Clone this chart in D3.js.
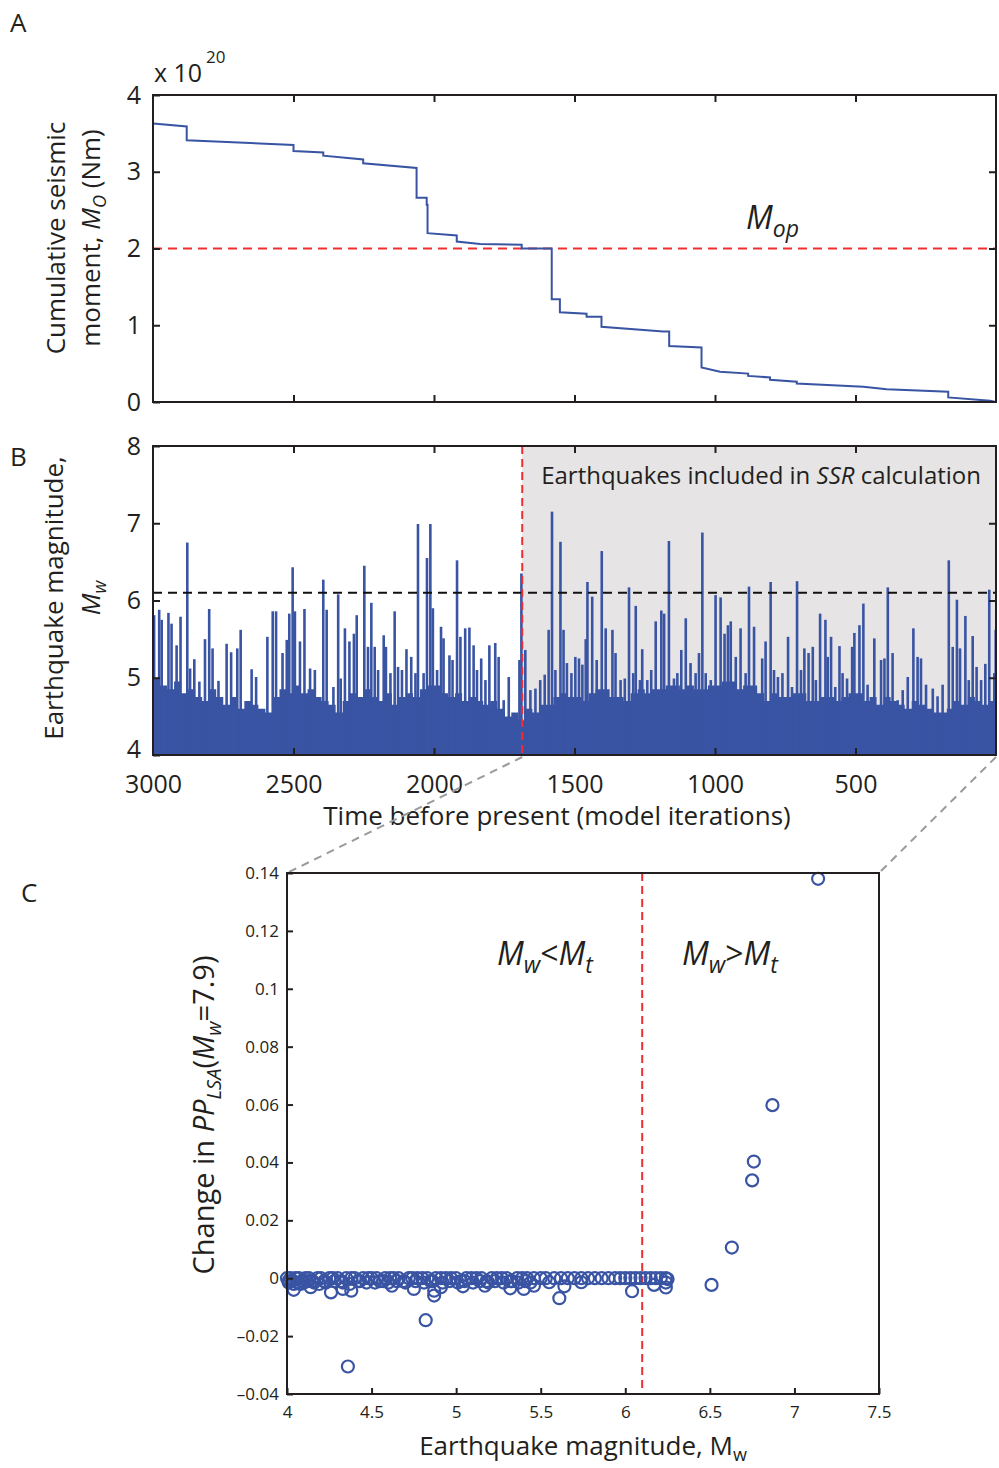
<!DOCTYPE html>
<html><head><meta charset="utf-8">
<script src="https://cdn.jsdelivr.net/npm/d3@7"></script>
<style>
body{margin:0;background:#fff}
svg{display:block}
text{font-family:"Open Sans",sans-serif;fill:#231f20}
</style>
</head><body>
<svg id="c" width="999" height="1468"></svg>
<script>
// ---------- DATA ----------
// Panel A: cumulative seismic moment (x10^20 Nm) vs time before present
const momentTime  = [3000,2880,2880,2500,2500,2394,2394,2252,2252,2062,2062,2026,2026,2023,2023,1919,1919,1836,1688,1688,1581,1581,1552,1552,1457,1457,1404,1404,1184,1163,1163,1048,1048,982,882,882,804,804,709,709,472,389,170,170,21,0];
const momentValue = [3.63,3.59,3.41,3.35,3.27,3.25,3.21,3.16,3.11,3.05,2.66,2.66,2.57,2.57,2.20,2.17,2.09,2.06,2.05,2.00,2.00,1.34,1.34,1.17,1.15,1.11,1.11,0.98,0.92,0.92,0.73,0.71,0.45,0.395,0.37,0.34,0.32,0.29,0.265,0.24,0.20,0.165,0.134,0.06,0.017,0.0];
const momentTicksY = [0,1,2,3,4];
const mopLevel = 2;

// Panel B: earthquake magnitudes (peaks) vs time
const eqTime = [2996,2978,2969,2945,2934,2916,2902,2888,2878,2868,2853,2835,2815,2800,2788,2767,2738,2722,2700,2688,2667,2649,2633,2619,2593,2574,2562,2539,2524,2515,2503,2495,2477,2461,2441,2424,2394,2382,2370,2358,2341,2332,2317,2301,2285,2275,2248,
 2235,2223,2211,2199,2179,2171,2155,2140,2128,2114,2098,2081,2066,2057,2037,2025,2013,2004,1989,1975,1966,1945,1934,1918,1906,1889,1874,1859,1847,1832,1817,1803,1782,1770,1752,1734,1717,1696,1689,1675,1657,1639,1622,1606,1592,1580,1568,1550,1539,1527,1511,1497,
 1484,1472,1460,1454,1437,1421,1403,1389,1365,1354,1336,1321,1306,1291,1282,1267,1259,1241,1227,1211,1191,1181,1164,1146,1134,1120,1104,1087,1069,1057,1045,1033,1015,998,980,966,954,944,926,909,891,879,861,843,832,820,802,790,776,760,740,
 726,708,694,682,667,652,641,626,607,599,587,572,557,546,530,512,504,486,472,457,433,409,397,385,368,350,332,314,294,279,267,249,225,208,190,168,154,139,128,109,97,83,69,53,38,24,6,1];
const eqMag = [5.81,5.88,5.75,5.84,5.70,5.42,5.79,4.76,6.75,5.12,5.24,4.95,5.50,5.89,5.38,4.96,5.44,5.33,5.38,5.62,4.69,5.11,5.01,4.47,5.53,5.86,5.86,5.32,5.49,5.83,6.43,5.86,5.47,5.89,5.12,5.10,6.27,5.88,4.54,4.88,6.08,4.99,5.64,5.47,5.57,5.81,6.45,
 5.40,5.97,5.40,5.10,5.55,5.40,5.06,5.86,5.14,5.10,5.37,5.27,5.06,6.99,5.06,6.55,6.99,5.90,5.10,5.66,5.51,5.29,5.23,6.52,5.53,5.64,5.65,5.42,5.10,5.25,4.97,5.42,5.45,5.27,4.71,5.01,4.54,5.23,6.35,5.36,4.84,4.86,4.97,5.04,5.62,7.15,5.10,6.76,5.62,5.19,5.06,5.27,
 5.25,5.17,5.50,6.24,6.05,5.23,6.64,5.64,5.62,5.32,4.97,4.99,6.17,5.06,5.93,4.97,5.37,4.97,5.10,5.73,5.87,5.83,6.77,4.99,5.06,5.36,5.77,5.19,5.06,5.32,6.88,5.06,4.97,6.07,6.04,5.57,5.68,5.73,5.27,5.64,5.06,6.18,5.66,4.63,5.25,5.47,6.24,5.10,5.01,5.06,5.53,
 4.88,6.25,5.10,5.38,5.32,5.40,4.97,5.83,5.75,5.27,5.53,4.88,5.41,5.06,4.99,5.40,5.58,5.68,5.96,4.91,5.51,5.23,5.25,6.17,5.32,4.71,4.84,5.01,5.64,5.27,5.25,4.91,4.86,4.76,4.91,6.52,5.40,6.01,5.38,5.80,4.97,5.54,5.14,4.97,5.18,6.14,5.06,5.62];
// dense background level of the magnitude series
const envTime = [3000,2975,2950,2925,2900,2875,2850,2825,2800,2775,2750,2725,2700,2675,2650,2625,2600,2575,2550,2525,2500,2475,2450,2425,2400,2375,2350,2325,2300,2275,2250,2225,2200,2175,2150,2125,2100,2075,2050,2025,2000,1975,1950,1925,1900,1875,1850,1825,1800,1775,1750,1725,1700,1675,1650,1625,1600,1575,1550,1525,1500,1475,1450,1425,1400,1375,1350,1325,1300,1275,1250,1225,1200,1175,1150,1125,1100,1075,1050,1025,1000,975,950,925,900,875,850,825,800,775,750,725,700,675,650,625,600,575,550,525,500,475,450,425,400,375,350,325,300,275,250,225,200,175,150,125,100,75,50,25,0];
const envMag  = [5.0,4.9,4.85,4.95,4.8,4.85,4.75,4.7,4.85,4.75,4.65,4.75,4.6,4.7,4.65,4.6,4.55,4.75,4.85,4.8,4.9,4.8,4.85,4.75,4.7,4.65,4.55,4.7,4.8,4.75,4.85,4.75,4.7,4.8,4.65,4.75,4.8,4.75,4.85,4.9,4.9,4.8,4.75,4.8,4.7,4.75,4.7,4.65,4.7,4.6,4.5,4.55,4.45,4.6,4.55,4.65,4.65,4.75,4.8,4.75,4.75,4.7,4.8,4.85,4.85,4.75,4.75,4.7,4.8,4.85,4.8,4.85,4.85,4.9,4.9,4.85,4.9,4.85,4.85,4.9,4.9,4.95,4.95,4.85,4.9,4.9,4.8,4.7,4.8,4.75,4.75,4.8,4.8,4.7,4.7,4.75,4.75,4.7,4.75,4.8,4.8,4.7,4.75,4.65,4.75,4.7,4.65,4.6,4.7,4.65,4.6,4.55,4.55,4.6,4.7,4.65,4.75,4.7,4.65,4.7,4.7];
const magTicks = [4,5,6,7,8];
const timeTicks = [3000,2500,2000,1500,1000,500];
const thresholdMag = 6.1;   // Mt
const ssrStart = 1686;      // start of SSR window

// Panel C: change in PP_LSA vs magnitude
const cMw = [4.00,4.01,4.02,4.03,4.05,4.07,4.09,4.11,4.13,4.15,4.18,4.20,4.22,4.25,4.27,4.30,4.32,4.35,4.38,4.40,4.43,4.45,4.48,4.50,4.53,4.55,4.58,4.61,4.63,4.66,4.69,4.72,4.74,4.77,4.80,4.83,4.85,4.88,4.91,4.94,4.97,5.00,5.03,5.06,5.09,5.12,5.15,5.18,5.21,5.24,5.27,5.30,5.33,5.36,5.39,5.42,5.46,5.50,5.53,5.58,5.62,5.66,5.70,5.74,5.78,5.82,5.86,5.90,5.94,5.97,6.00,6.03,6.06,6.09,6.12,6.15,6.18,6.21,6.24,
  4.01,4.04,4.06,4.08,4.10,4.12,4.16,4.19,4.23,4.28,4.33,4.37,4.42,4.47,4.52,4.57,4.60,4.65,4.70,4.76,4.81,4.86,4.92,4.96,5.01,5.05,5.10,5.14,5.19,5.23,5.28,5.32,5.37,5.41,5.44,
  4.04,4.14,4.26,4.33,4.38,4.62,4.75,4.87,4.87,4.91,5.04,5.17,5.32,5.40,5.46,5.55,5.64,5.74,6.04,6.17,6.24,6.24,6.25,
  4.36,4.82,5.61,6.51,6.63,6.75,6.76,6.87,7.14];
const cVal = [0,-0.001,0,-0.001,0,0,-0.001,0,0,-0.001,0,0,-0.001,0,0,0,-0.001,0,0,0,-0.001,0,0,0,0,-0.001,0,0,0,0,-0.001,0,0,0,0,0,-0.001,0,0,0,0,0,-0.001,0,0,0,0,-0.001,0,0,0,0,-0.001,0,0,0,0,0,0,0,0,0,0,0,0,0,0,0,0,0,0,0,0,0,0,0,0,0,0,
  -0.0015,-0.002,-0.0015,-0.002,-0.0015,-0.001,-0.0015,-0.002,-0.0015,-0.001,-0.0015,-0.002,-0.001,-0.0015,-0.0015,-0.001,-0.0015,-0.001,-0.0015,-0.001,-0.0015,-0.001,-0.0015,-0.001,-0.0015,-0.001,-0.0015,-0.001,-0.0015,-0.001,-0.0015,-0.001,-0.0015,-0.001,-0.0015,
  -0.004,-0.0031,-0.0049,-0.0037,-0.0043,-0.0026,-0.0037,-0.006,-0.0043,-0.0031,-0.0028,-0.0026,-0.0035,-0.0037,-0.0026,-0.0014,-0.0028,-0.0014,-0.0045,-0.0023,-0.0015,-0.0032,-0.0003,
  -0.0305,-0.0145,-0.0069,-0.0023,0.0106,0.0338,0.0403,0.0598,0.138];
const cTicksY = [-0.04,-0.02,0,0.02,0.04,0.06,0.08,0.1,0.12,0.14];
const cTicksX = [4,4.5,5,5.5,6,6.5,7,7.5];

// ---------- DRAWING ----------
const svg = d3.select('#c');
const BLUE = '#3a54a4', RED = '#ee2e32', INK = '#231f20';

function frame(g, x0, y0, x1, y1){
  g.append('rect').attr('x',x0).attr('y',y0).attr('width',x1-x0).attr('height',y1-y0)
   .attr('fill','none').attr('stroke',INK).attr('stroke-width',2);
}
function styleAxis(g, fs){
  g.select('.domain').remove();
  g.selectAll('.tick line').attr('stroke',INK).attr('stroke-width',2);
  g.selectAll('.tick text').style('font-size',fs+'px').attr('fill',INK);
}

// ---- Panel A ----
const xT = d3.scaleLinear().domain([3000,0]).range([153,996]);
const yA = d3.scaleLinear().domain([0,4]).range([402,95]);
const defs = svg.append('defs');
defs.append('clipPath').attr('id','clipA').append('rect').attr('x',153).attr('y',95).attr('width',843).attr('height',307);
defs.append('clipPath').attr('id','clipB').append('rect').attr('x',153).attr('y',446).attr('width',843).attr('height',309);

const gA = svg.append('g');
gA.append('line').attr('x1',xT(3000)).attr('x2',xT(0)).attr('y1',yA(mopLevel)).attr('y2',yA(mopLevel))
  .attr('stroke',RED).attr('stroke-width',2).attr('stroke-dasharray','9,6');
const lineA = d3.line().x((d,i)=>xT(momentTime[i])).y((d,i)=>yA(momentValue[i]));
gA.append('path').datum(momentTime).attr('d',lineA).attr('fill','none').attr('stroke',BLUE).attr('stroke-width',2)
  .attr('clip-path','url(#clipA)');
frame(gA,153,95,996,402);
gA.append('g').attr('transform','translate(153,0)').call(d3.axisLeft(yA).tickValues(momentTicksY).tickSize(-7).tickPadding(12).tickFormat(d3.format('d'))).call(g=>styleAxis(g,25));
gA.append('g').attr('transform','translate(996,0)').call(d3.axisRight(yA).tickValues([1,2,3]).tickSize(-7).tickFormat('')).call(g=>styleAxis(g,25));
gA.append('g').attr('transform','translate(0,95)').call(d3.axisTop(xT).tickValues([2500,2000,1500,1000,500]).tickSize(-7).tickFormat('')).call(g=>styleAxis(g,25));
gA.append('g').attr('transform','translate(0,402)').call(d3.axisBottom(xT).tickValues([2500,2000,1500,1000,500]).tickSize(-7).tickFormat('')).call(g=>styleAxis(g,25));

svg.append('text').attr('x',10).attr('y',32).style('font-size','26px').text('A');
svg.append('text').attr('x',154).attr('y',82).style('font-size','25px').text('x 10');
svg.append('text').attr('x',206).attr('y',63).style('font-size','17px').text('20');
// y label A
const ylA = svg.append('g').attr('transform','translate(65,238) rotate(-90)');
ylA.append('text').attr('text-anchor','middle').style('font-size','26px').text('Cumulative seismic');
const l2 = ylA.append('text').attr('text-anchor','middle').attr('y',35).style('font-size','26px');
l2.append('tspan').text('moment, ');
l2.append('tspan').style('font-style','italic').text('M');
l2.append('tspan').attr('dy',6).style('font-size','18px').style('font-style','italic').text('O');
l2.append('tspan').attr('dy',-6).text(' (Nm)');
// Mop label
const mop = svg.append('text').attr('x',746).attr('y',229).style('font-size','32px').style('font-style','italic');
mop.append('tspan').text('M');
mop.append('tspan').attr('dy',8).style('font-size','23px').text('op');

// ---- Panel B ----
const yB = d3.scaleLinear().domain([4,8]).range([755,446]);
const gB = svg.append('g');
gB.append('rect').attr('x',xT(ssrStart)).attr('y',446).attr('width',xT(0)-xT(ssrStart)).attr('height',309).attr('fill','#e6e4e5');
const areaB = d3.area().curve(d3.curveStepAfter).x((d,i)=>xT(envTime[i])).y0(yB(4)).y1((d,i)=>yB(envMag[i]));
const gBd = gB.append('g').attr('clip-path','url(#clipB)');
gBd.append('path').datum(envTime).attr('d',areaB).attr('fill',BLUE);
gBd.selectAll('line.spk').data(eqTime).join('line').attr('class','spk')
  .attr('x1',d=>xT(d)).attr('x2',d=>xT(d)).attr('y1',yB(4)).attr('y2',(d,i)=>yB(eqMag[i]))
  .attr('stroke',BLUE).attr('stroke-width',2.6);
gB.append('line').attr('x1',xT(3000)).attr('x2',xT(0)).attr('y1',yB(thresholdMag)).attr('y2',yB(thresholdMag))
  .attr('stroke','#111').attr('stroke-width',2).attr('stroke-dasharray','9,6');
gB.append('line').attr('x1',xT(ssrStart)).attr('x2',xT(ssrStart)).attr('y1',446).attr('y2',755)
  .attr('stroke',RED).attr('stroke-width',2).attr('stroke-dasharray','8,5');
frame(gB,153,446,996,755);
const byl = gB.append('g').attr('transform','translate(153,0)').call(d3.axisLeft(yB).tickValues(magTicks).tickSize(-7).tickPadding(12).tickFormat(d3.format('d'))).call(g=>styleAxis(g,25));
byl.selectAll('.tick').filter(d=>d===4).select('text').attr('dy','0.1em');
gB.append('g').attr('transform','translate(996,0)').call(d3.axisRight(yB).tickValues([5,6,7]).tickSize(-7).tickFormat('')).call(g=>styleAxis(g,25));
gB.append('g').attr('transform','translate(0,446)').call(d3.axisTop(xT).tickValues([2500,2000,1500,1000,500]).tickSize(-7).tickFormat('')).call(g=>styleAxis(g,25));
const bx = gB.append('g').attr('transform','translate(0,755)').call(d3.axisBottom(xT).tickValues(timeTicks).tickSize(-7).tickPadding(20).tickFormat(d3.format('d'))).call(g=>styleAxis(g,25));
bx.selectAll('.tick').filter(d=>d===3000).select('line').remove();

svg.append('text').attr('x',10).attr('y',466).style('font-size','26px').text('B');
const ssr = svg.append('text').attr('x',981).attr('y',484).attr('text-anchor','end').style('font-size','24px');
ssr.append('tspan').text('Earthquakes included in ');
ssr.append('tspan').style('font-style','italic').text('SSR');
ssr.append('tspan').text(' calculation');
const ylB = svg.append('g').attr('transform','translate(63,598) rotate(-90)');
ylB.append('text').attr('text-anchor','middle').style('font-size','26px').text('Earthquake magnitude,');
const mw = ylB.append('text').attr('text-anchor','middle').attr('y',37).style('font-size','26px').style('font-style','italic');
mw.append('tspan').text('M');
mw.append('tspan').attr('dy',6).style('font-size','18px').text('w');
svg.append('text').attr('x',557).attr('y',825).attr('text-anchor','middle').style('font-size','26px').text('Time before present (model iterations)');

// connectors
svg.append('line').attr('x1',xT(ssrStart)).attr('y1',757).attr('x2',287).attr('y2',873)
  .attr('stroke','#9a9a9a').attr('stroke-width',2).attr('stroke-dasharray','8,6');
svg.append('line').attr('x1',996).attr('y1',757).attr('x2',879).attr('y2',873)
  .attr('stroke','#9a9a9a').attr('stroke-width',2).attr('stroke-dasharray','8,6');

// ---- Panel C ----
const xC = d3.scaleLinear().domain([4,7.5]).range([287,879]);
const yC = d3.scaleLinear().domain([-0.04,0.14]).range([1394,873]);
const gC = svg.append('g');
gC.append('line').attr('x1',xC(thresholdMag)).attr('x2',xC(thresholdMag)).attr('y1',873).attr('y2',1394)
  .attr('stroke',RED).attr('stroke-width',2).attr('stroke-dasharray','8,5');
gC.selectAll('circle').data(cMw).join('circle')
  .attr('cx',d=>xC(d)).attr('cy',(d,i)=>yC(cVal[i])).attr('r',6)
  .attr('fill','none').attr('stroke',BLUE).attr('stroke-width',2.2);
frame(gC,287,873,879,1394);
const fmtC = d => { const s = String(+d.toFixed(2)); return d<0 ? '\u2013'+s.slice(1) : s; };
gC.append('g').attr('transform','translate(287,0)').call(d3.axisLeft(yC).tickValues(cTicksY).tickSize(-6).tickPadding(8).tickFormat(fmtC)).call(g=>styleAxis(g,17));
gC.append('g').attr('transform','translate(0,1394)').call(d3.axisBottom(xC).tickValues(cTicksX).tickSize(-6).tickPadding(12).tickFormat(d=>String(d))).call(g=>styleAxis(g,17));

svg.append('text').attr('x',21).attr('y',902).style('font-size','26px').text('C');
const ylC = svg.append('text').attr('transform','translate(214,1115) rotate(-90)').attr('text-anchor','middle').style('font-size','29px');
ylC.append('tspan').text('Change in ');
ylC.append('tspan').style('font-style','italic').text('PP');
ylC.append('tspan').attr('dy',7).style('font-size','20px').style('font-style','italic').text('LSA');
ylC.append('tspan').attr('dy',-7).text('(');
ylC.append('tspan').style('font-style','italic').text('M');
ylC.append('tspan').attr('dy',7).style('font-size','20px').style('font-style','italic').text('w');
ylC.append('tspan').attr('dy',-7).text('=7.9)');
const xlC = svg.append('text').attr('x',583).attr('y',1455).attr('text-anchor','middle').style('font-size','26px');
xlC.append('tspan').text('Earthquake magnitude, M');
xlC.append('tspan').attr('dy',6).style('font-size','18px').text('w');

function mLabel(x, op){
  const t = svg.append('text').attr('x',x).attr('y',965).style('font-size','32px').style('font-style','italic');
  t.append('tspan').text('M');
  t.append('tspan').attr('dy',8).style('font-size','23px').text('w');
  t.append('tspan').attr('dy',-8).style('font-style','normal').text(op);
  t.append('tspan').text('M');
  t.append('tspan').attr('dy',8).style('font-size','23px').text('t');
}
mLabel(497,'<');
mLabel(682,'>');
</script>
</body></html>
